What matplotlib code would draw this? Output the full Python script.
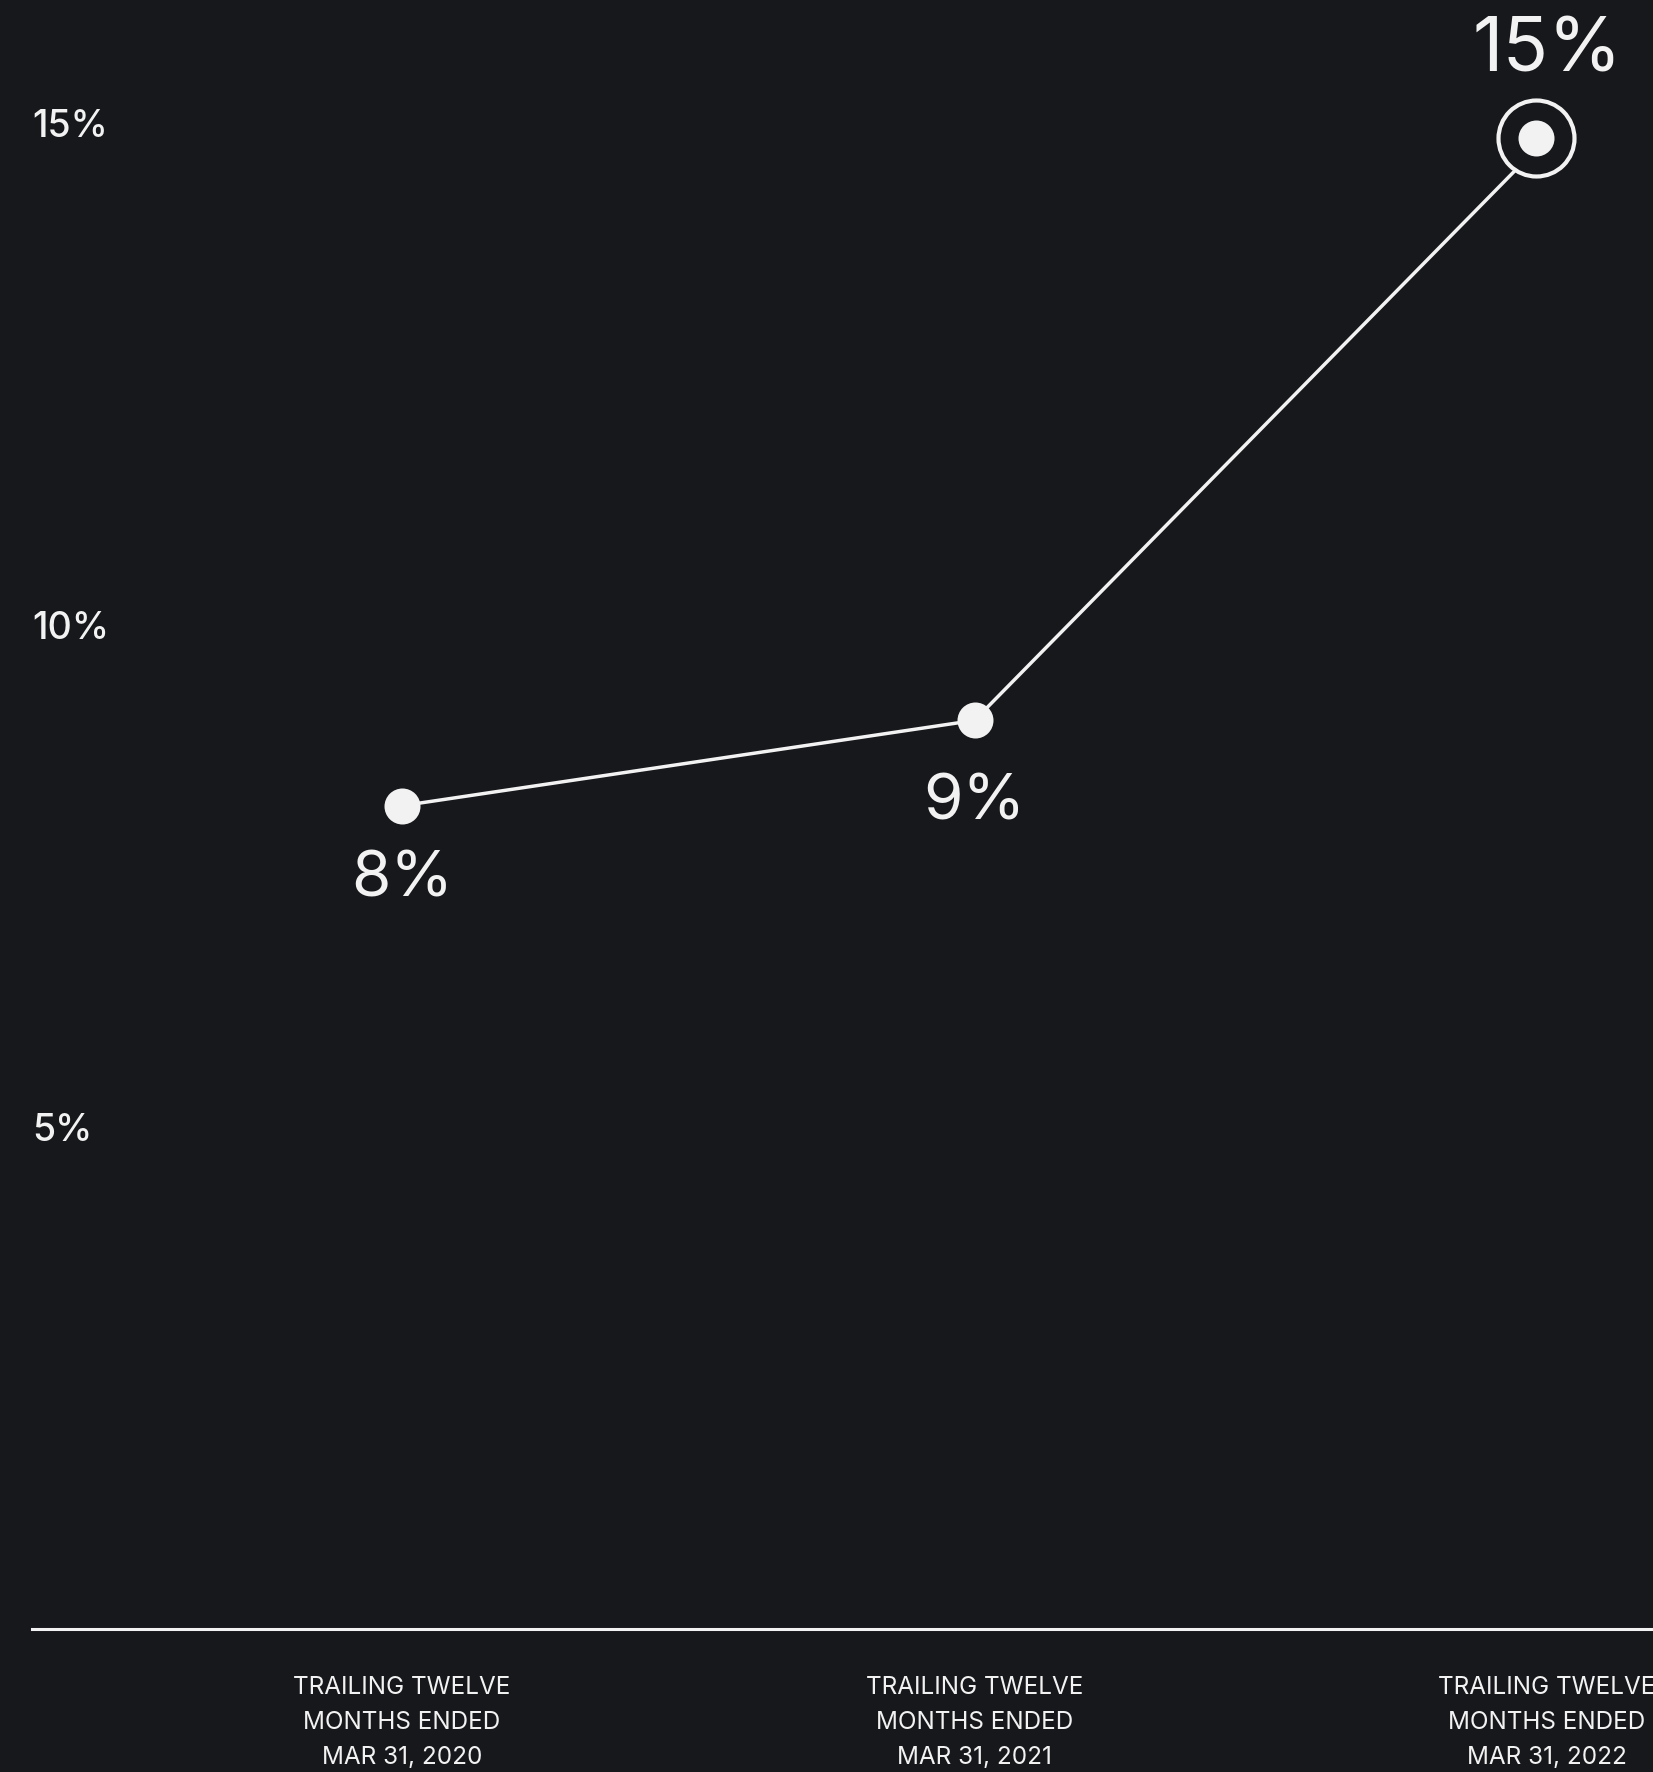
import matplotlib
matplotlib.use("Agg")
import matplotlib.pyplot as plt
import matplotlib.transforms as mtransforms

# ---- data ----
categories = [
    "TRAILING TWELVE\nMONTHS ENDED\nMAR 31, 2020",
    "TRAILING TWELVE\nMONTHS ENDED\nMAR 31, 2021",
    "TRAILING TWELVE\nMONTHS ENDED\nMAR 31, 2022",
]
values = [8.2, 9.05, 14.85]
value_labels = ["8%", "9%", "15%"]
ytick_values = [5, 10, 15]
ytick_labels = ["5%", "10%", "15%"]

# ---- style ----
BG = "#17181c"
FG = "#f2f2f2"
W, H = 1653, 1772
DPI = 100

plt.rcParams["font.family"] = ["Inter", "DejaVu Sans"]

fig = plt.figure(figsize=(W / DPI, H / DPI), dpi=DPI, facecolor=BG)
ax_left, ax_bottom = 32, 1629  # pixel positions
ax = fig.add_axes([ax_left / W, (H - ax_bottom) / H, (W - ax_left) / W, ax_bottom / H])
ax.set_facecolor(BG)

x = list(range(len(values)))
px_per_unit = 572.5
x0_px = 402
ax.set_xlim((ax_left - x0_px) / px_per_unit, 2 + (W - 1547) / px_per_unit)
ax.set_ylim(0, ax_bottom / 100.4)

# highlighted marker sits slightly left of its label column
hl_trans = ax.transData + mtransforms.ScaledTranslation(-11 / DPI, 0, fig.dpi_scale_trans)

# line
ax.plot(x, values, color=FG, lw=2.5, zorder=2, solid_capstyle="butt")
# normal markers
ax.scatter(x[:-1], values[:-1], s=36**2 * (72 / DPI) ** 2, color=FG, zorder=3, linewidths=0)
# highlighted last marker: ring with background fill + inner dot
ax.scatter([x[-1]], [values[-1]], s=76**2 * (72 / DPI) ** 2, facecolor=BG,
           edgecolor=FG, linewidths=3.0, zorder=4, clip_on=False, transform=hl_trans)
ax.scatter([x[-1]], [values[-1]], s=36**2 * (72 / DPI) ** 2, color=FG, zorder=5,
           linewidths=0, clip_on=False, transform=hl_trans)

# value labels
offsets = [(0, -74), (0, -83), (0, 86)]
sizes = [46, 46, 54]
for xi, v, lab, (dx, dy), fs in zip(x, values, value_labels, offsets, sizes):
    ax.annotate(lab, (xi, v), xytext=(dx * 72 / DPI, dy * 72 / DPI),
                textcoords="offset points", ha="center", va="center",
                fontsize=fs, color=FG, zorder=6, annotation_clip=False)

# spines
for s in ["top", "right", "left"]:
    ax.spines[s].set_visible(False)
ax.spines["bottom"].set_color(FG)
ax.spines["bottom"].set_linewidth(2.2)

# y ticks (labels inside, left aligned)
ax.set_yticks(ytick_values)
ax.set_yticklabels(ytick_labels)
ax.tick_params(axis="y", length=0, pad=0, labelsize=27, labelcolor=FG)
for t in ax.get_yticklabels():
    t.set_horizontalalignment("left")
    t.set_fontweight("medium")

# x ticks
ax.set_xticks(x)
ax.set_xticklabels(categories, linespacing=1.65)
ax.tick_params(axis="x", length=0, pad=34, labelsize=17.5, labelcolor=FG)
for t in ax.get_xticklabels():
    t.set_horizontalalignment("center")

fig.savefig("out.png", dpi=DPI, facecolor=BG)
